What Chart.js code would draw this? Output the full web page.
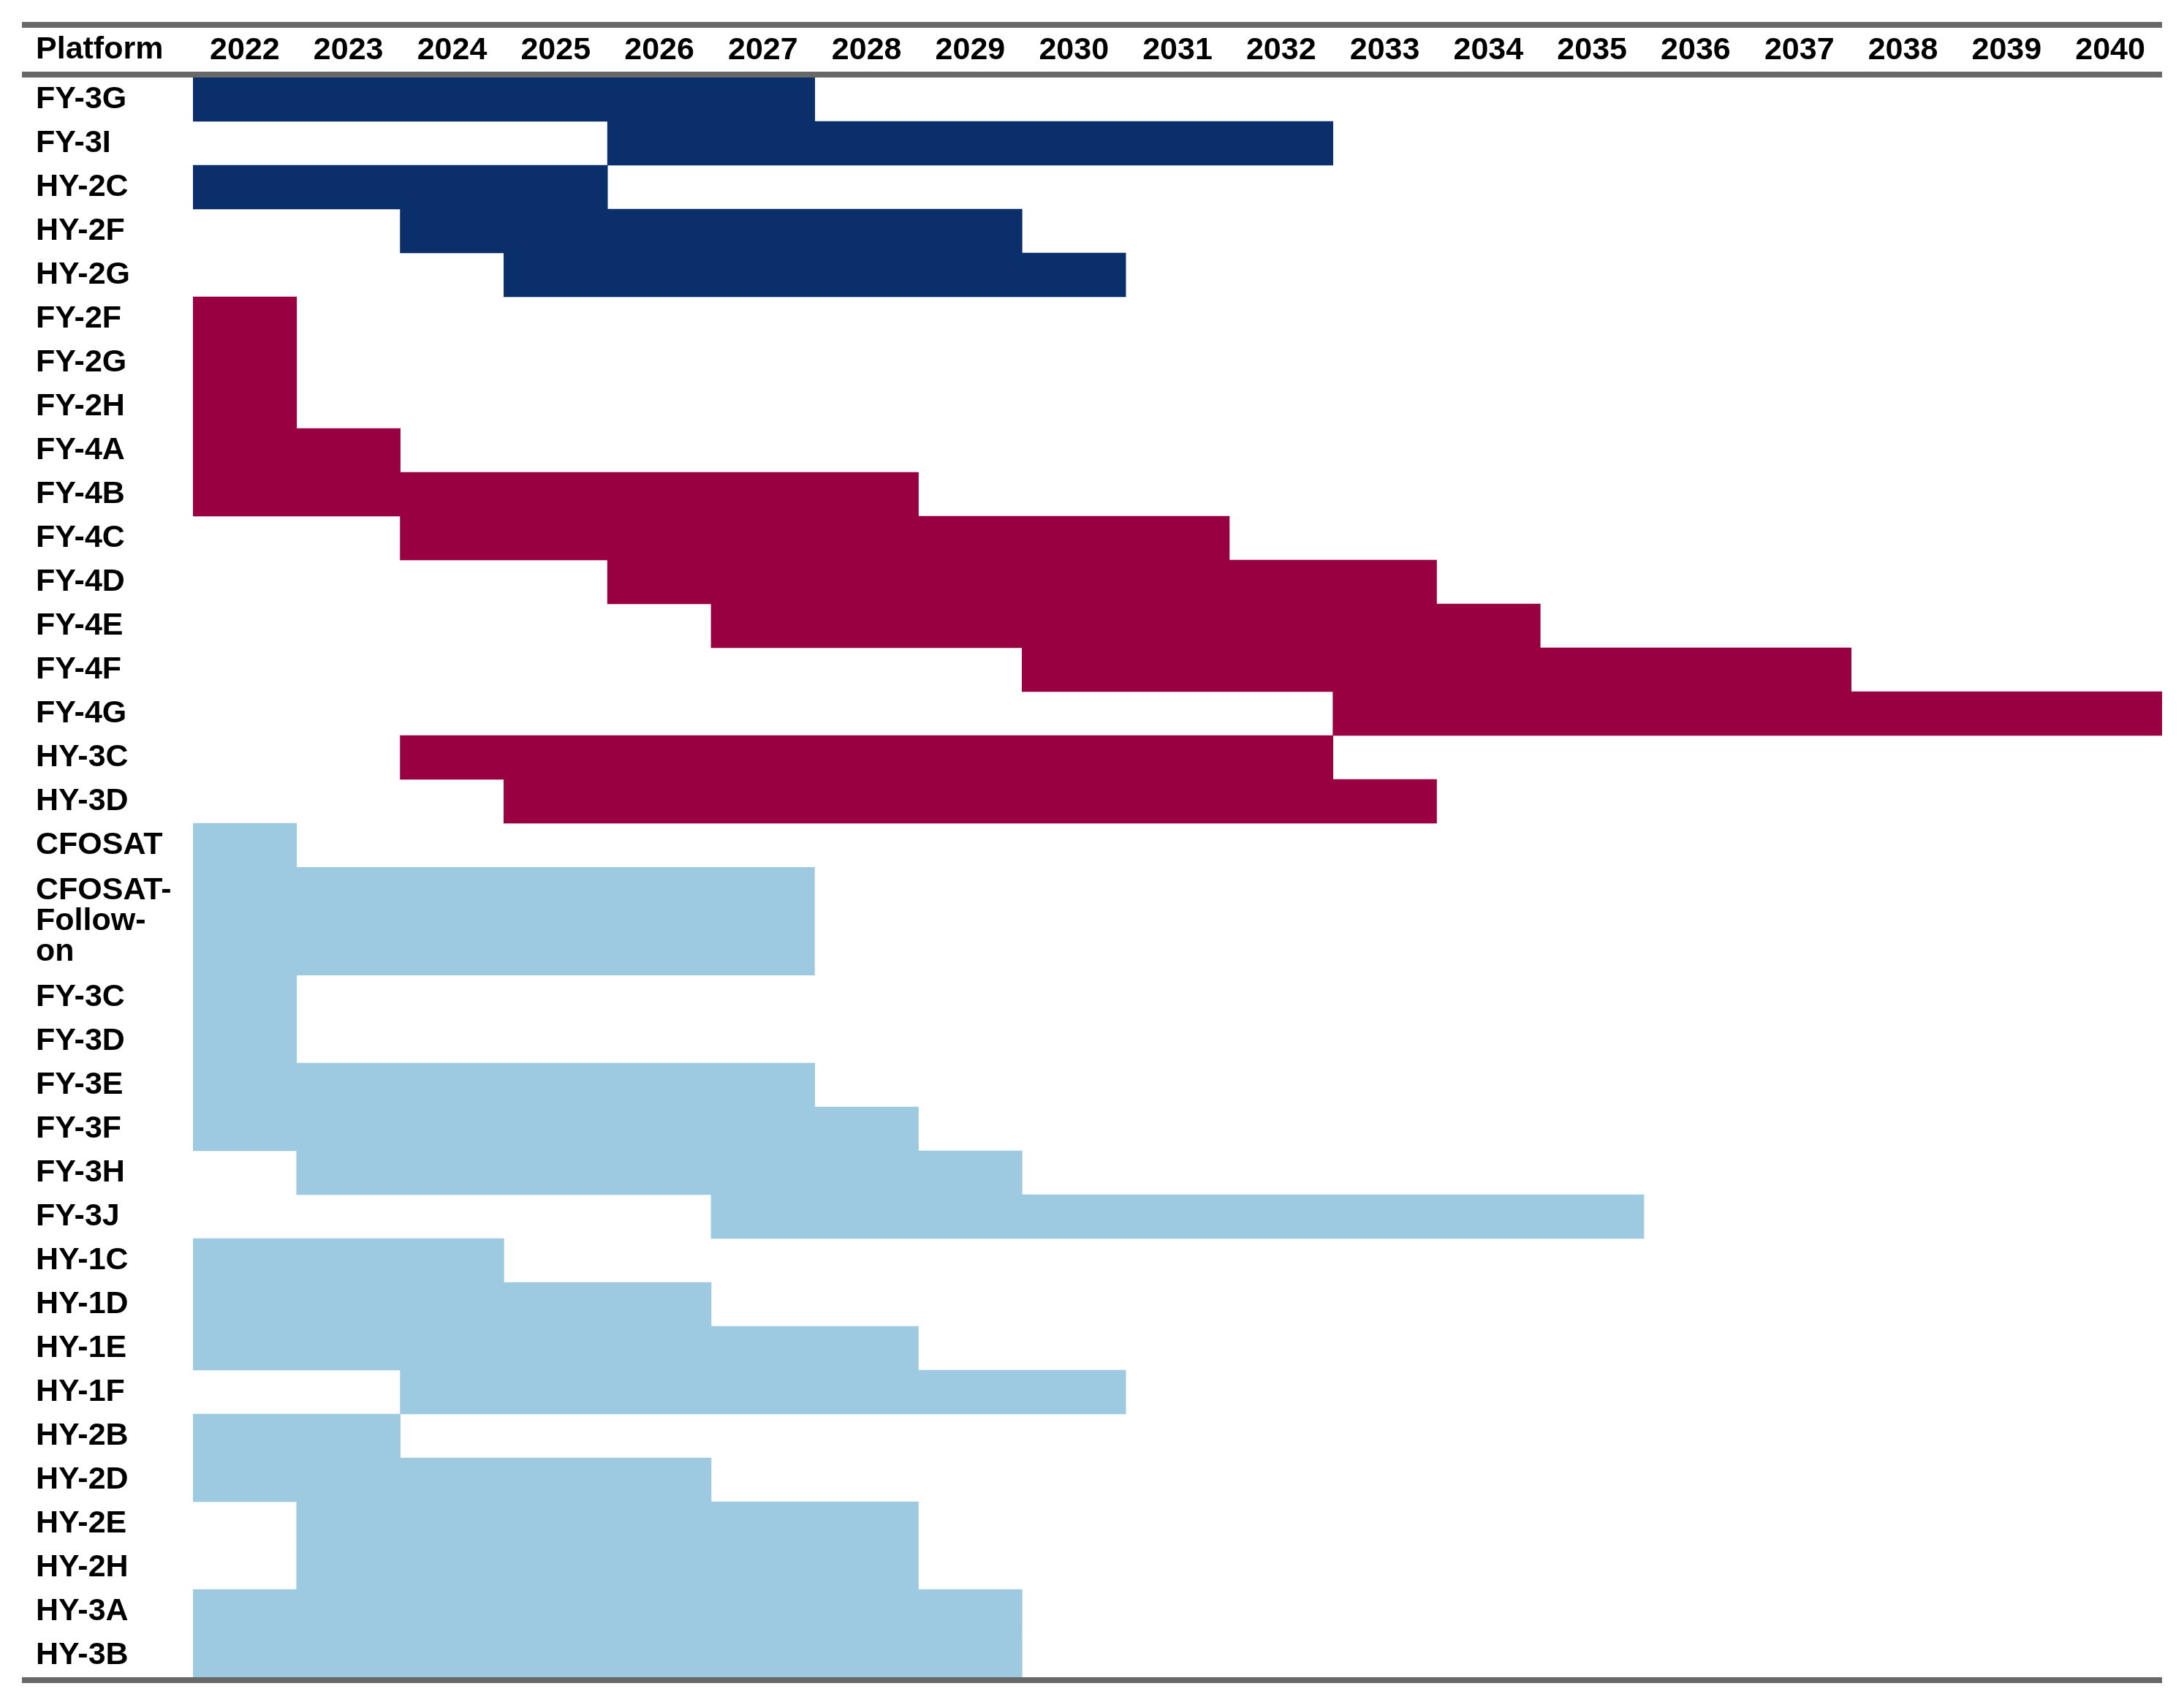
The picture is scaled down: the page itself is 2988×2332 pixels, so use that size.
<!DOCTYPE html>
<html>
<head>
<meta charset="utf-8">
<script src="https://cdn.jsdelivr.net/npm/chart.js@4/dist/chart.umd.min.js"></script>
<style>
  html, body { margin: 0; padding: 0; background: #ffffff; }
  #wrap { width: 2988px; height: 2332px; position: relative; }
</style>
</head>
<body>
<div id="wrap"><canvas id="chart"></canvas></div>
<script>
// ---- data ----
const years = [2022, 2023, 2024, 2025, 2026, 2027, 2028, 2029, 2030, 2031,
               2032, 2033, 2034, 2035, 2036, 2037, 2038, 2039, 2040];

const platforms = [
  'FY-3G', 'FY-3I', 'HY-2C', 'HY-2F', 'HY-2G',
  'FY-2F', 'FY-2G', 'FY-2H', 'FY-4A', 'FY-4B', 'FY-4C', 'FY-4D', 'FY-4E', 'FY-4F', 'FY-4G', 'HY-3C', 'HY-3D',
  'CFOSAT', 'CFOSAT-Follow-on', 'FY-3C', 'FY-3D', 'FY-3E', 'FY-3F', 'FY-3H', 'FY-3J',
  'HY-1C', 'HY-1D', 'HY-1E', 'HY-1F', 'HY-2B', 'HY-2D', 'HY-2E', 'HY-2H', 'HY-3A', 'HY-3B'
];

// label text as shown (wrapped lines)
const platformLabels = [
  'FY-3G', 'FY-3I', 'HY-2C', 'HY-2F', 'HY-2G',
  'FY-2F', 'FY-2G', 'FY-2H', 'FY-4A', 'FY-4B', 'FY-4C', 'FY-4D', 'FY-4E', 'FY-4F', 'FY-4G', 'HY-3C', 'HY-3D',
  'CFOSAT', ['CFOSAT-', 'Follow-', 'on'], 'FY-3C', 'FY-3D', 'FY-3E', 'FY-3F', 'FY-3H', 'FY-3J',
  'HY-1C', 'HY-1D', 'HY-1E', 'HY-1F', 'HY-2B', 'HY-2D', 'HY-2E', 'HY-2H', 'HY-3A', 'HY-3B'
];

const startYear = [
  2022, 2026, 2022, 2024, 2025,
  2022, 2022, 2022, 2022, 2022, 2024, 2026, 2027, 2030, 2033, 2024, 2025,
  2022, 2022, 2022, 2022, 2022, 2022, 2023, 2027,
  2022, 2022, 2022, 2024, 2022, 2022, 2023, 2023, 2022, 2022
];

const endYear = [
  2027, 2032, 2025, 2029, 2030,
  2022, 2022, 2022, 2023, 2028, 2031, 2033, 2034, 2037, 2040, 2032, 2033,
  2022, 2027, 2022, 2022, 2027, 2028, 2029, 2035,
  2024, 2026, 2028, 2030, 2023, 2026, 2028, 2028, 2029, 2029
];

// colour group of each row: 0 = navy, 1 = crimson, 2 = light blue
const groupOf = [
  0, 0, 0, 0, 0,
  1, 1, 1, 1, 1, 1, 1, 1, 1, 1, 1, 1,
  2, 2, 2, 2, 2, 2, 2, 2,
  2, 2, 2, 2, 2, 2, 2, 2, 2, 2
];

// relative row heights (the wrapped label row is taller)
const rowUnits = [
  1, 1, 1, 1, 1,
  1, 1, 1, 1, 1, 1, 1, 1, 1, 1, 1, 1,
  1, 2.4667, 1, 1, 1, 1, 1, 1,
  1, 1, 1, 1, 1, 1, 1, 1, 1, 1
];

const groupColors = ['#0A2F6A', '#990041', '#9ECAE1'];

// ---- derived row centres on a linear scale ----
const rowCenters = [];
let cum = 0;
rowUnits.forEach(u => { rowCenters.push(cum + u / 2); cum += u; });
const totalUnits = cum;

const FONT_FAMILY = '"Liberation Sans", Arial, Helvetica, sans-serif';
const labelFont = { family: FONT_FAMILY, size: 43, weight: 'bold', lineHeight: 0.97 };

const datasets = platforms.map((p, i) => ({
  label: p,
  data: [{ x: [startYear[i] - 0.5, endYear[i] + 0.5], y: rowCenters[i] }],
  backgroundColor: groupColors[groupOf[i]],
  borderWidth: 0,
  grouped: false,
  categoryPercentage: 1,
  barPercentage: rowUnits[i]
}));

const tableRules = {
  id: 'tableRules',
  afterDraw(chart, args, opts) {
    const { ctx, chartArea: a, scales: { x, y } } = chart;
    const w = opts.width;
    const left = opts.left;
    const len = a.right - left;
    ctx.save();
    ctx.fillStyle = opts.color;
    ctx.fillRect(left, x.top - w, len, w);   // top rule
    ctx.fillRect(left, a.top - w, len, w);   // rule under header
    ctx.fillRect(left, a.bottom, len, w);    // bottom rule
    ctx.fillStyle = '#000000';
    ctx.font = 'bold 43px ' + FONT_FAMILY;
    ctx.textAlign = 'left';
    ctx.textBaseline = 'middle';
    ctx.fillText(opts.header, y.left, (x.top + a.top - w) / 2);
    ctx.restore();
  }
};

new Chart(document.getElementById('chart'), {
  type: 'bar',
  data: { datasets },
  plugins: [tableRules],
  options: {
    indexAxis: 'y',
    responsive: true,
    maintainAspectRatio: false,
    animation: false,
    layout: { padding: { left: 49, right: 30, top: 38, bottom: 38 } },
    plugins: {
      legend: { display: false },
      tooltip: { enabled: false },
      tableRules: { color: '#686868', width: 8, left: 30, header: 'Platform' }
    },
    scales: {
      x: {
        type: 'linear',
        position: 'top',
        offset: false,
        min: years[0] - 0.5,
        max: years[years.length - 1] + 0.5,
        grid: { display: false },
        border: { display: false },
        afterBuildTicks: s => { s.ticks = years.map(v => ({ value: v })); },
        afterFit: s => { s.height = 68; },
        ticks: {
          autoSkip: false,
          maxRotation: 0,
          padding: 8,
          color: '#000000',
          font: labelFont,
          callback: (v, i) => String(years[i])
        }
      },
      y: {
        type: 'linear',
        reverse: true,
        offset: false,
        min: 0,
        max: totalUnits,
        grid: { display: false },
        border: { display: false },
        afterBuildTicks: s => { s.ticks = rowCenters.map(v => ({ value: v })); },
        afterFit: s => { s.width = 215; },
        ticks: {
          autoSkip: false,
          crossAlign: 'far',
          color: '#000000',
          font: labelFont,
          callback: (v, i) => platformLabels[i]
        }
      }
    }
  }
});
</script>
</body>
</html>
